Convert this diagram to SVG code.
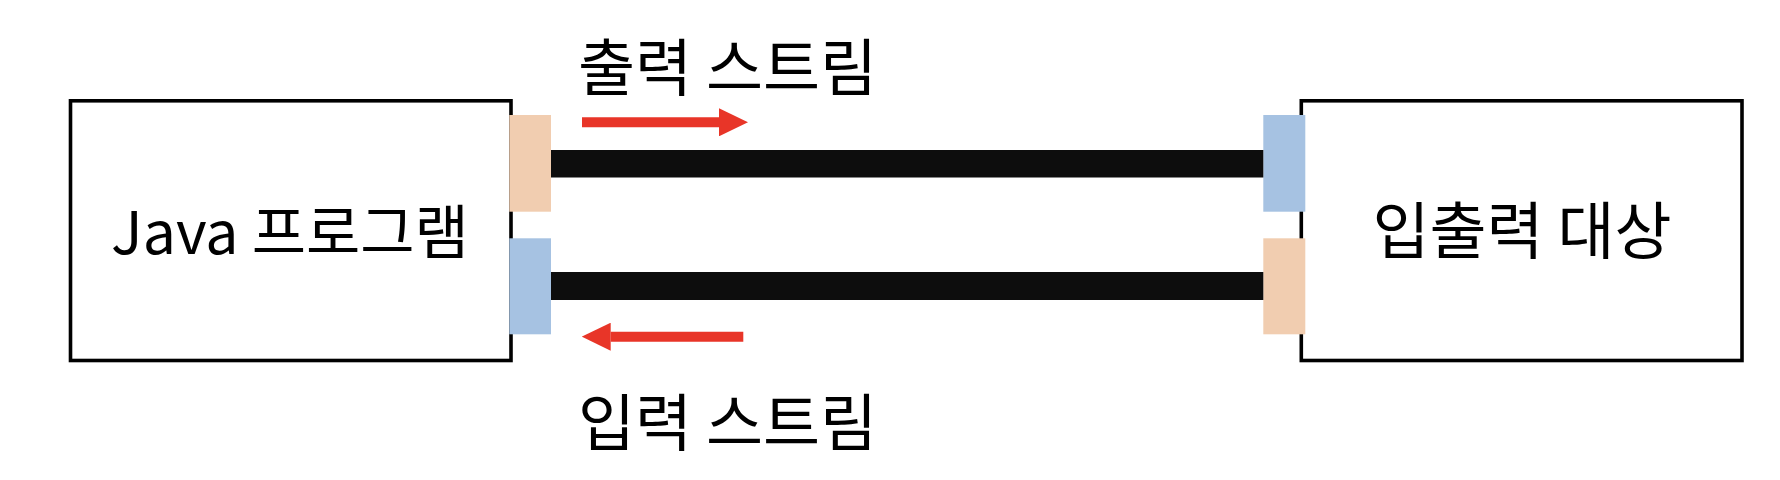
<svg xmlns="http://www.w3.org/2000/svg" width="1780" height="480" viewBox="0 0 1780 480">
  <style>
    .box { fill: #ffffff; stroke: #000000; stroke-width: 3.6; }
    .out { fill: #F1CDB0; }
    .in { fill: #A6C2E2; }
    .bar { fill: #0D0D0D; }
    .flow { stroke: #E83528; stroke-width: 10; fill: none; }
    .label { font-family: "Noto Sans CJK KR", "Noto Sans", sans-serif; font-size: 62px; fill: #000000; }
  </style>
  <defs>
    <marker id="head" viewBox="0 0 29 28" refX="0" refY="14" markerWidth="29" markerHeight="28" markerUnits="userSpaceOnUse" orient="auto">
      <path d="M0,0 L29,14 L0,28 z" fill="#E83528"/>
    </marker>
  </defs>
  <rect width="1780" height="480" fill="#ffffff"/>

  <g id="java-program">
    <rect class="box" x="70.5" y="100.8" width="440.5" height="259.7"/>
    <rect class="out" x="509.3" y="115" width="41.7" height="96.7"/>
    <rect class="in" x="509.3" y="238.3" width="41.7" height="96"/>
    <text class="label" x="290" y="254" text-anchor="middle" style="font-size:59px">Java 프로그램</text>
  </g>

  <g id="io-target">
    <rect class="box" x="1301.3" y="100.8" width="440.7" height="259.7"/>
    <rect class="in" x="1263.3" y="115" width="42" height="96.7"/>
    <rect class="out" x="1263.3" y="238.3" width="42" height="96"/>
    <text class="label" x="1522" y="254" text-anchor="middle">입출력 대상</text>
  </g>

  <g id="connectors">
    <rect class="bar" x="551" y="150" width="712.3" height="27.5"/>
    <rect class="bar" x="551" y="272" width="712.3" height="28"/>
    <line class="flow" x1="582" y1="122.3" x2="719" y2="122.3" marker-end="url(#head)"/>
    <line class="flow" x1="743.3" y1="336.7" x2="610.7" y2="336.7" marker-end="url(#head)"/>
  </g>

  <g id="stream-labels">
    <text class="label" x="578" y="91">출력 스트림</text>
    <text class="label" x="578" y="446">입력 스트림</text>
  </g>
</svg>
